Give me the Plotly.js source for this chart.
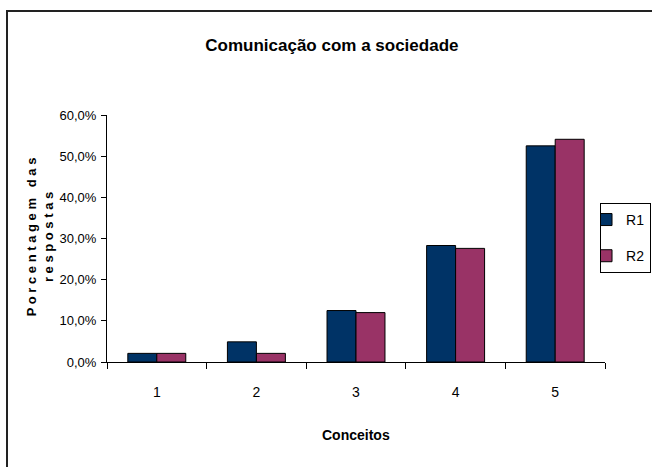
<!DOCTYPE html>
<html>
<head>
<meta charset="utf-8">
<script src="https://cdn.plot.ly/plotly-3.0.1.min.js"></script>
<style>
  html, body { margin: 0; padding: 0; background: #ffffff; }
  #chart { width: 652px; height: 467px; }
</style>
</head>
<body>
<div id="chart"></div>
<script>
const categories = ["1", "2", "3", "4", "5"];
const seriesNames = ["R1", "R2"];
const r1Values = [0.021, 0.049, 0.125, 0.283, 0.525];
const r2Values = [0.021, 0.021, 0.120, 0.276, 0.541];
const yTickValues = [0, 0.1, 0.2, 0.3, 0.4, 0.5, 0.6];

const FONT = '"Liberation Sans Narrow", "Arial Narrow", "Liberation Sans", Arial, sans-serif';

const traces = [
  {
    type: 'bar', name: seriesNames[0], x: categories, y: r1Values,
    legendgroup: 'a',
    marker: { color: '#003366', line: { color: '#000000', width: 1 } },
    hoverinfo: 'skip'
  },
  {
    type: 'bar', name: seriesNames[1], x: categories, y: r2Values,
    legendgroup: 'b',
    marker: { color: '#993366', line: { color: '#000000', width: 1 } },
    hoverinfo: 'skip'
  }
];

const layout = {
  width: 652, height: 467,
  paper_bgcolor: '#ffffff', plot_bgcolor: '#ffffff',
  separators: ', ',
  font: { family: FONT, size: 13, color: '#000000' },
  margin: { l: 107, r: 47, t: 115, b: 105, autoexpand: false },
  barmode: 'group', bargap: 0.418, bargroupgap: 0,
  title: {
    text: '<b>Comunicação com a sociedade</b>',
    font: { family: FONT, size: 17, color: '#000000' },
    xref: 'container', x: 0.509, xanchor: 'center',
    yref: 'container', y: 0.904, yanchor: 'middle'
  },
  xaxis: {
    type: 'category', categoryorder: 'array', categoryarray: categories,
    showline: true, linecolor: '#000000', linewidth: 1,
    ticks: 'outside', tickson: 'boundaries', ticklen: 6, tickcolor: '#000000',
    ticklabelstandoff: 17,
    tickfont: { family: FONT, size: 14, color: '#000000' },
    showgrid: false, zeroline: false, fixedrange: true
  },
  yaxis: {
    range: [0, 0.6], tickvals: yTickValues, tickformat: '.1%',
    showline: true, linecolor: '#000000', linewidth: 1,
    ticks: 'outside', ticklen: 5, tickcolor: '#000000',
    ticklabelstandoff: 2,
    tickfont: { family: FONT, size: 13, color: '#000000' },
    showgrid: false, zeroline: false, fixedrange: true
  },
  showlegend: true,
  legend: {
    x: 0.99, xanchor: 'left', y: 0.644, yanchor: 'top',
    bordercolor: '#000000', borderwidth: 1, bgcolor: '#ffffff',
    font: { family: FONT, size: 14, color: '#000000' },
    traceorder: 'grouped', tracegroupgap: 15,
    indentation: -15, itemwidth: 30
  },
  annotations: [
    {
      text: '<b>P o r c e n t a g e m   d a s<br>r e s p o s t a s</b>',
      xref: 'paper', yref: 'paper', x: -0.1345, y: 0.505,
      xanchor: 'center', yanchor: 'middle', textangle: -90, showarrow: false,
      font: { family: FONT, size: 13, color: '#000000' }
    },
    {
      text: '<b>Conceitos</b>',
      xref: 'paper', yref: 'paper', x: 0.5, y: -0.2955,
      xanchor: 'center', yanchor: 'middle', showarrow: false,
      font: { family: FONT, size: 14, color: '#000000' }
    }
  ],
  shapes: [
    {
      type: 'rect', xref: 'paper', yref: 'paper',
      x0: -0.2008, x1: 1.3, y0: -0.6, y1: 1.421,
      line: { color: '#222222', width: 2 }, fillcolor: 'rgba(0,0,0,0)', layer: 'above'
    }
  ]
};

Plotly.newPlot('chart', traces, layout, { displayModeBar: false, staticPlot: true });
</script>
</body>
</html>
